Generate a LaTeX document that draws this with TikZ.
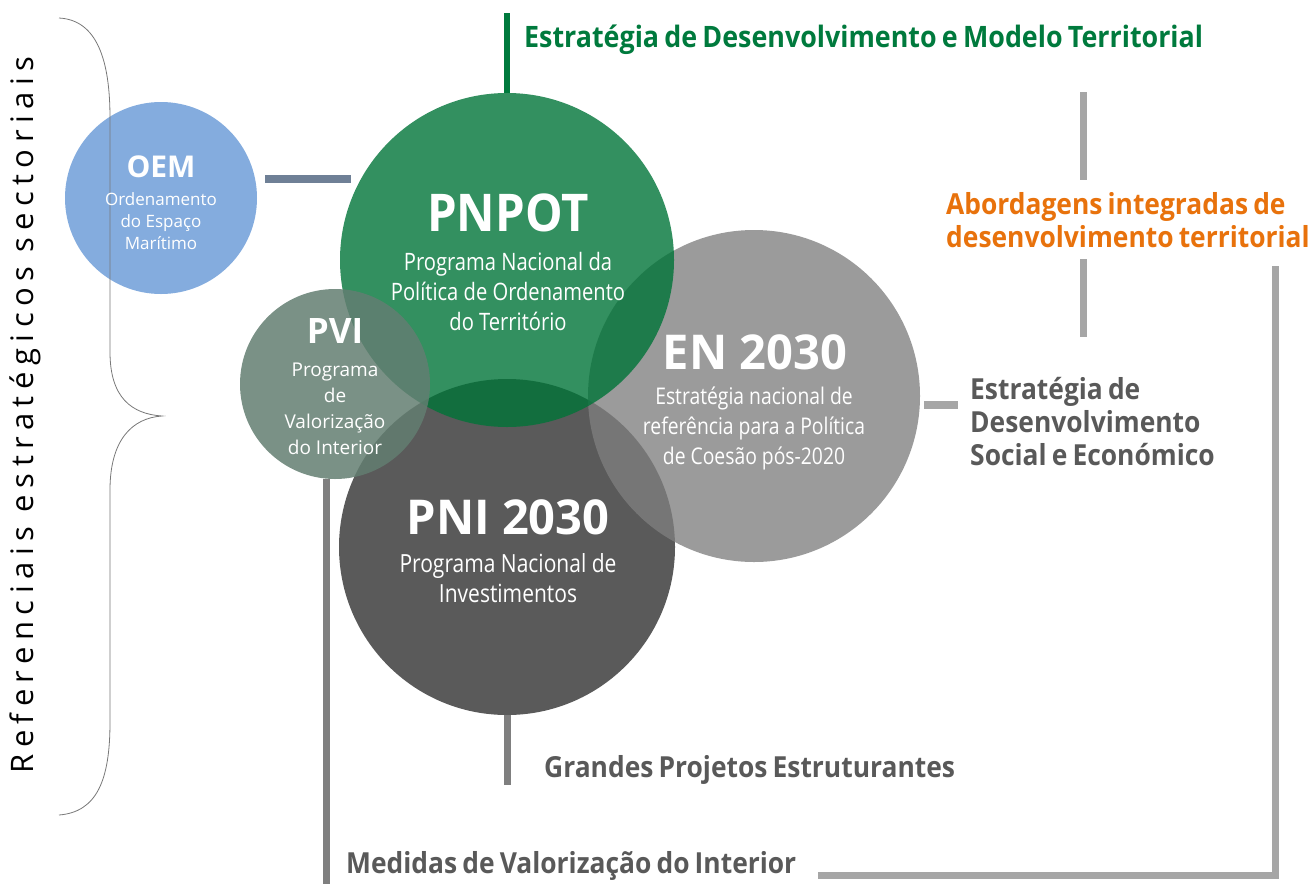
\documentclass[tikz,border=0pt]{standalone}
\usepackage{fontspec}
\setmainfont{Open Sans}
\newfontfamily\sbf{Open Sans}[FakeStretch=0.91,WordSpace=0.75]
\newfontfamily\tbf{Open Sans}[FakeStretch=0.98]
\newfontfamily\lcond{Open Sans}[FakeStretch=0.84]
\newfontfamily\spaced{Open Sans}[LetterSpace=21]
\definecolor{greenT}{RGB}{0,122,61}
\definecolor{pnpotF}{RGB}{0,116,56}
\definecolor{enF}{RGB}{127,127,127}
\definecolor{pniF}{RGB}{90,90,90}
\definecolor{pviF}{RGB}{99,126,113}
\definecolor{oemF}{RGB}{132,172,222}
\definecolor{barBlue}{RGB}{111,128,150}
\definecolor{barGray}{RGB}{166,166,166}
\definecolor{barDark}{RGB}{127,127,127}
\definecolor{txtGray}{RGB}{89,89,89}
\definecolor{orangeT}{RGB}{232,114,12}
\definecolor{braceC}{RGB}{120,120,120}
\begin{document}
\begin{tikzpicture}[x=1pt,y=-1pt,
  disc/.style={circle,draw=none,inner sep=0pt},
  lbl/.style={inner sep=0pt,font=\sbf\bfseries\fontsize{29}{33}\selectfont,align=left},
  big/.style={inner sep=0pt,text=white,font=\sbf\bfseries\fontsize{#1}{#1}\selectfont},
  bigw/.style={inner sep=0pt,text=white,font=\tbf\bfseries\fontsize{#1}{#1}\selectfont},
  sub/.style={inner sep=0pt,text=white,align=center,font=\lcond\fontsize{24}{30}\selectfont},
  small/.style 2 args={inner sep=0pt,text=white,align=center,font=\fontsize{#1}{#2}\selectfont},
  bar/.style={line width=7pt}]
\useasboundingbox (0,0) rectangle (1311,884);
% circles
\node[disc,fill=oemF,minimum size=192pt] (oem) at (161,198) {};
\node[disc,fill=pniF,minimum size=336pt] (pni) at (507,547) {};
\node[disc,fill=enF,fill opacity=0.78,minimum size=332pt] (en) at (754,396) {};
\node[disc,fill=pnpotF,fill opacity=0.8,minimum size=334pt] (pnpot) at (507,260) {};
\node[disc,fill=pviF,fill opacity=0.85,minimum size=190pt] (pvi) at (335,384) {};
% coordinates for bar ends
\coordinate (gtop) at (507,13);
\coordinate (oemR) at (265,179);
\coordinate (pnpotL) at (351,179);
\coordinate (a1) at (1083,92);
\coordinate (a2) at (1083,180);
\coordinate (a3) at (1083,259);
\coordinate (a4) at (1083,337);
\coordinate (r1) at (1275,266);
\coordinate (r2) at (1275,875);
\coordinate (r3) at (818,875);
\coordinate (e1) at (924,405);
\coordinate (e2) at (958,405);
\coordinate (pniB) at (507,785);
\coordinate (pviB) at (326,884);
% bars
\draw[bar,line width=6pt,greenT] (gtop) -- (pnpot.north);
\draw[bar,line width=8pt,barBlue] (oemR) -- (pnpotL);
\draw[bar,barGray] (a1) -- (a2);
\draw[bar,barGray] (a3) -- (a4);
\draw[bar,barGray] (r1) -- (r2) -- (r3);
\draw[bar,line width=8pt,barGray] (e1) -- (e2);
\draw[bar,barDark] (pni.south) -- (pniB);
\draw[bar,barDark] (pvi.south -| pviB) -- (pviB);
% brace
\draw[braceC,line width=0.8pt] (59,18) .. controls (97,20) and (110,60) .. (110,118) -- (110,352)
  .. controls (110,398) and (132,414) .. (162,416)
  .. controls (132,418) and (110,440) .. (110,490) -- (110,722)
  .. controls (110,780) and (97,812) .. (59,815);
% vertical text
\node[rotate=90,inner sep=0pt,font=\spaced\fontsize{31}{31}\selectfont,text=black] (vt) at (25,415) {Referenciais estratégicos sectoriais};
% circle texts
\node[inner sep=0pt,text=white,font=\bfseries\fontsize{30}{30}\selectfont] (oemT) at (161,167) {OEM};
\node[small={17}{22}] (oemS) at (161,221) {Ordenamento\\do Espaço\\Marítimo};
\node[big=52] (pnpotT) at (508,213) {PNPOT};
\node[sub] (pnpotS) at (508,291) {Programa Nacional da\\Política de Ordenamento\\do Território};
\node[sub,font=\lcond\fontsize{23}{30}\selectfont] (enS) at (754,428) {Estratégia nacional de\\referência para a Política\\de Coesão pós-2020};
\node[bigw=48] (enT) at (755,352) {EN 2030};
\node[bigw=48] (pniT) at (508,517) {PNI 2030};
\node[sub,font=\lcond\fontsize{25}{30}\selectfont] (pniS) at (508,578) {Programa Nacional de\\Investimentos};
\node[inner sep=0pt,text=white,font=\bfseries\fontsize{35}{35}\selectfont] (pviT) at (335,331) {PVI};
\node[small={19}{26}] (pviS) at (335,409) {Programa\\de\\Valorização\\do Interior};
% labels
\node[lbl,font=\sbf\bfseries\fontsize{29.5}{33}\selectfont,text=greenT,anchor=west] (t1) at (524,40) {Estratégia de Desenvolvimento e Modelo Territorial};
\node[lbl,text=orangeT,anchor=west] (t2) at (946,220) {Abordagens integradas de\\desenvolvimento territorial};
\node[lbl,text=txtGray,anchor=west] (t3) at (970,422) {Estratégia de\\Desenvolvimento\\Social e Económico};
\node[lbl,text=txtGray,anchor=west] (t4) at (544,770) {Grandes Projetos Estruturantes};
\node[lbl,text=txtGray,anchor=west] (t5) at (346,866) {Medidas de Valorização do Interior};
\end{tikzpicture}
\end{document}
